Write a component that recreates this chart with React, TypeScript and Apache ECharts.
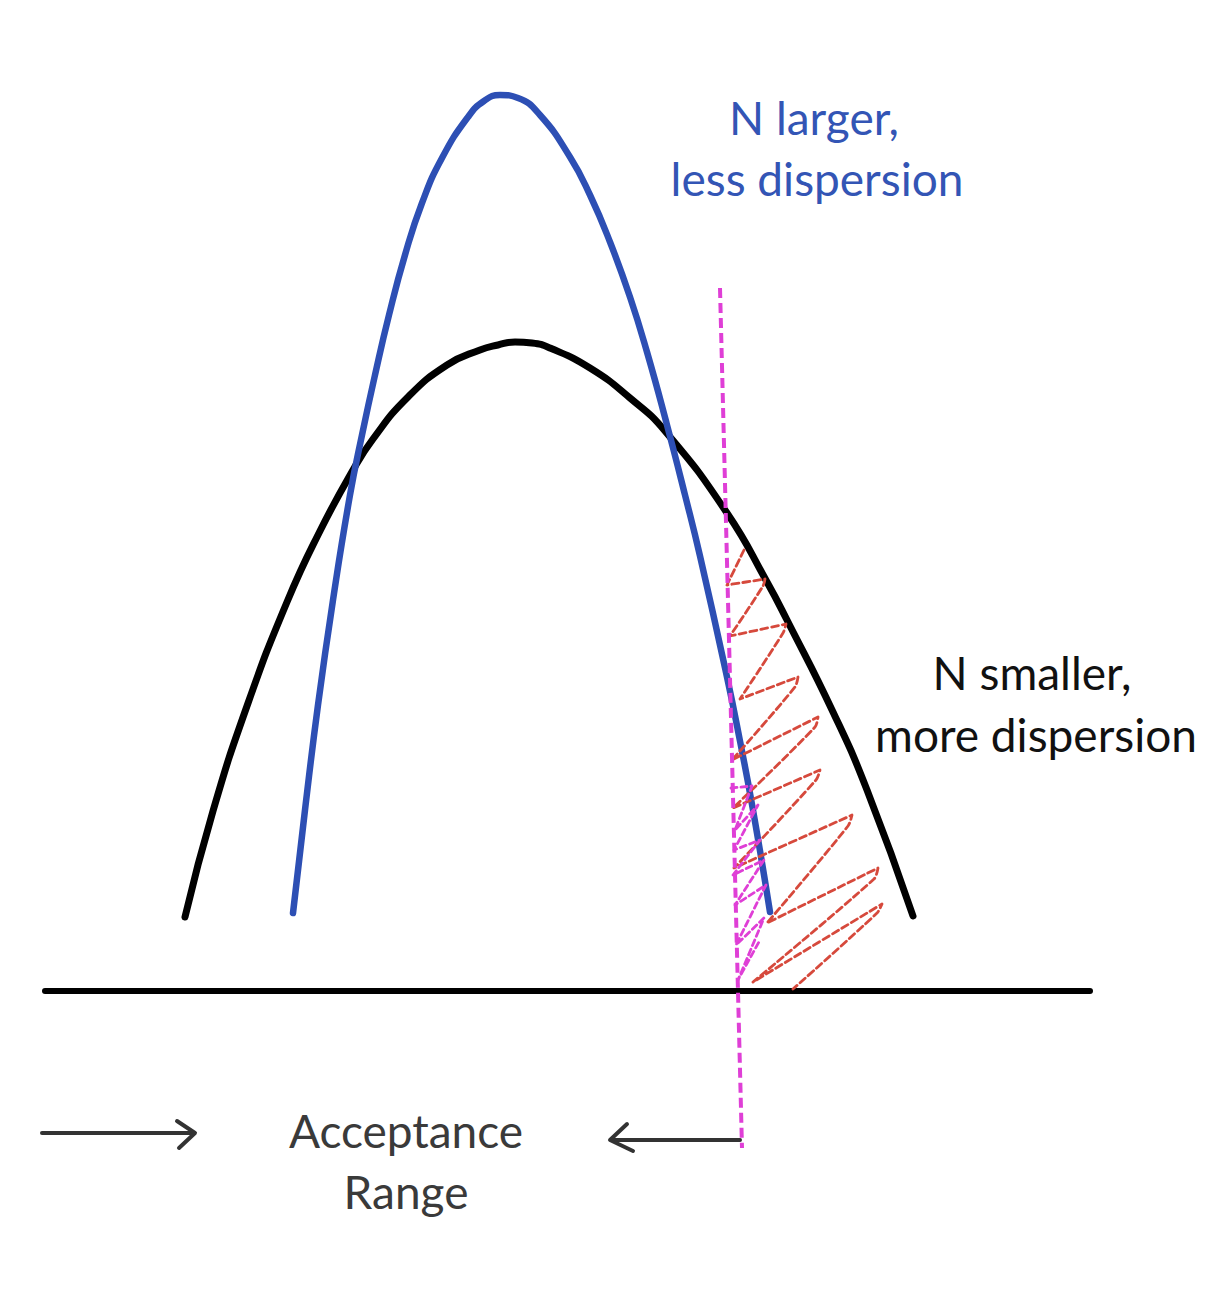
import React, { useEffect, useRef } from "react";
import * as echarts from "echarts";

// Wide curve (N smaller)
const wideCurve: number[][] = [
  [185, 917], [213, 811], [247, 706], [287, 602], [320, 531], [353, 470], [373, 439],
  [407, 398], [447, 365], [480, 350], [498, 345], [515, 342], [532, 343], [550, 348],
  [590, 368], [630, 398], [665, 431], [727, 513], [767, 582], [787, 620], [833, 712],
  [867, 790], [913, 916],
];

// Narrow curve (N larger)
const narrowCurve: number[][] = [
  [293, 913], [305, 810], [318, 705], [333, 600], [350, 495], [362, 435], [375, 375],
  [389, 315], [405, 255], [422, 203], [442, 158], [468, 117], [484, 101], [500, 95],
  [518, 98], [540, 115], [570, 157], [590, 195], [610, 242], [630, 297], [647, 352],
  [667, 425], [685, 495], [700, 556], [727, 677], [740, 741], [753, 810], [770, 912],
];

const baseline: number[][] = [[45, 991], [1090, 991]];
const cutoffLine: number[][] = [[720, 288], [742, 1148]];

// hatching loops: left end, tip (upper), tip (lower) ...
const redHatch: number[][] = [
  [744, 550], [727, 585], [765, 579], [763, 586], [730, 636], [786, 624], [783, 633],
  [740, 699], [798, 677], [795, 687], [732, 760], [818, 717], [815, 727], [733, 808],
  [820, 770], [816, 780], [734, 868], [852, 815], [848, 826], [767, 923], [878, 868],
  [874, 879], [753, 982], [882, 904], [877, 913], [793, 989],
];

const magentaHatch: number[][] = [
  [731, 788], [752, 786], [735, 830], [758, 805], [734, 850], [760, 840], [733, 875],
  [764, 860], [735, 905], [766, 885], [736, 945], [764, 918], [738, 980], [760, 940],
];

const arrowRightShaft: number[][] = [[42, 1133], [192, 1133]];
const arrowRightHead: number[][] = [[177, 1121], [195, 1133], [179, 1148]];
const arrowLeftShaft: number[][] = [[740, 1140], [614, 1140]];
const arrowLeftHead: number[][] = [[627, 1124], [610, 1140], [633, 1151]];

const blueLabel = ["N larger,", "less dispersion"];
const blackLabel = ["N smaller,", "more dispersion"];
const rangeLabel = ["Acceptance", "Range"];

const FONT = "Lato, 'Noto Sans', sans-serif";

export default function App() {
  const ref = useRef<HTMLDivElement>(null);
  useEffect(() => {
    if (!ref.current) return;
    const chart = echarts.init(ref.current, undefined, { renderer: "svg" });
    const lineSeries = (data: number[][], color: string, width: number, extra: any = {}) => ({
      type: "line",
      data,
      symbol: "none",
      silent: true,
      lineStyle: { color, width, cap: "round", join: "round", ...(extra.lineStyle || {}) },
      smooth: extra.smooth ?? false,
      z: extra.z ?? 2,
    });
    const txt = (text: string, x: number, y: number, fill: string) => ({
      type: "text",
      x,
      y,
      style: { text, fill, font: `46px ${FONT}`, textAlign: "center", textVerticalAlign: "middle" },
    });
    chart.setOption({
      animation: false,
      backgroundColor: "#ffffff",
      grid: { left: 0, right: 0, top: 0, bottom: 0 },
      xAxis: { type: "value", min: 0, max: 1213, show: false },
      yAxis: { type: "value", min: 0, max: 1309, inverse: true, show: false },
      series: [
        lineSeries(baseline, "#000000", 6),
        lineSeries(wideCurve, "#000000", 7, { smooth: 0.5, z: 3 }),
        lineSeries(narrowCurve, "#2d4fb4", 6.5, { smooth: 0.5, z: 4 }),
        lineSeries(redHatch, "#d6493c", 2.8, { lineStyle: { type: [7, 4] }, smooth: 0.3, z: 5 }),
        lineSeries(magentaHatch, "#df3fd6", 2.8, { lineStyle: { type: [6, 4] }, z: 6 }),
        lineSeries(cutoffLine, "#df3fd6", 4, { lineStyle: { type: [10, 5], cap: "butt" }, z: 7 }),
        lineSeries(arrowRightShaft, "#333333", 4),
        lineSeries(arrowRightHead, "#333333", 4),
        lineSeries(arrowLeftShaft, "#333333", 4),
        lineSeries(arrowLeftHead, "#333333", 4),
      ],
      graphic: [
        txt(blueLabel[0], 814, 117, "#3355b5"),
        txt(blueLabel[1], 817, 178, "#3355b5"),
        txt(blackLabel[0], 1032, 672, "#111111"),
        txt(blackLabel[1], 1036, 734, "#111111"),
        txt(rangeLabel[0], 406, 1130, "#3a3a3a"),
        txt(rangeLabel[1], 406, 1191, "#3a3a3a"),
      ],
    });
    return () => chart.dispose();
  }, []);
  return (
    <div
      ref={ref}
      style={{ position: "absolute", left: 0, top: 0, width: 1213, height: 1309, background: "#fff" }}
    />
  );
}
